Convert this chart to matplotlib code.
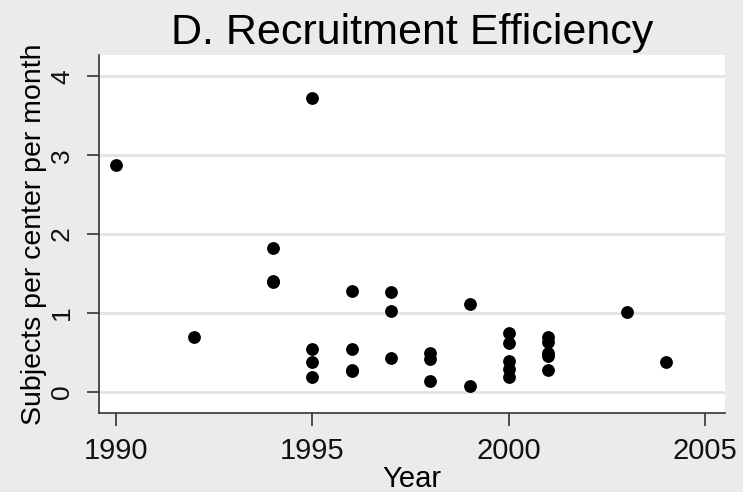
import matplotlib.pyplot as plt

years = [1990, 1992,
         1994, 1994, 1994,
         1995, 1995, 1995, 1995,
         1996, 1996, 1996, 1996,
         1997, 1997, 1997,
         1998, 1998, 1998,
         1999, 1999,
         2000, 2000, 2000, 2000, 2000,
         2001, 2001, 2001, 2001, 2001,
         2003, 2004]
subjects = [2.87, 0.69,
            1.82, 1.41, 1.39,
            3.73, 0.54, 0.38, 0.19,
            1.28, 0.54, 0.28, 0.26,
            1.27, 1.03, 0.43,
            0.49, 0.42, 0.14,
            1.11, 0.07,
            0.74, 0.62, 0.39, 0.29, 0.19,
            0.69, 0.63, 0.49, 0.45, 0.27,
            1.01, 0.38]

plt.rcParams['font.family'] = ['Liberation Sans', 'DejaVu Sans']

fig = plt.figure(figsize=(7.43, 4.92), dpi=100, facecolor='#ebebeb')
ax = fig.add_axes([0.1332, 0.1606, 0.8426, 0.7274])
ax.set_facecolor('white')

ax.scatter(years, subjects, s=85, color='black', zorder=3, linewidths=0)

ax.set_xlim(1989.57, 2005.5)
ax.set_ylim(-0.27, 4.27)
ax.set_xticks([1990, 1995, 2000, 2005])
ax.set_yticks([0, 1, 2, 3, 4])
ax.set_yticklabels(['0', '1', '2', '3', '4'], rotation=90, va='center')

ax.grid(axis='y', color='#e3e3e3', linewidth=2)
ax.set_axisbelow(True)
for side in ['top', 'right']:
    ax.spines[side].set_visible(False)
for side in ['left', 'bottom']:
    ax.spines[side].set_color('#333333')
    ax.spines[side].set_linewidth(1.2)

ax.tick_params(axis='both', length=9, width=1.2, color='#333333',
               labelcolor='#111111')
ax.tick_params(axis='x', labelsize=21, pad=8)
ax.tick_params(axis='y', labelsize=19, pad=9)

ax.set_xlabel('Year', fontsize=21, labelpad=0)
ax.set_ylabel('Subjects per center per month', fontsize=20.5, labelpad=2)
ax.set_title('D. Recruitment Efficiency', fontsize=31, pad=8)

fig.savefig('out.png', dpi=100, facecolor=fig.get_facecolor())
